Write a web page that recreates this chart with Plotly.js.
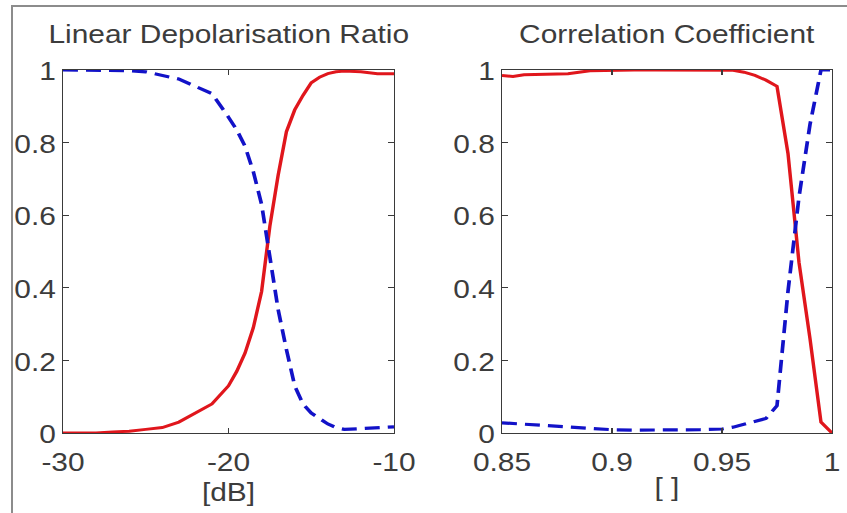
<!DOCTYPE html>
<html>
<head>
<meta charset="utf-8">
<script src="https://cdn.plot.ly/plotly-3.0.1.min.js"></script>
<style>
  html, body { margin: 0; padding: 0; background: #fff; overflow: hidden; }
  #frame {
    position: absolute; left: 11px; top: 5px; width: 900px; height: 600px;
    border-left: 2px solid #8c8c8c; border-top: 2px solid #8c8c8c;
    pointer-events: none; z-index: 2;
  }
  #chart {
    position: absolute; left: 0; top: 0; width: 736px; height: 513px;
    transform: scaleX(1.1508); transform-origin: 0 0;
  }
</style>
</head>
<body>
<div id="chart"></div>
<div id="frame"></div>
<script>
// Linear depolarisation ratio bins [dB]
const ldrX = [-30, -29, -28, -27, -26, -25, -24, -23, -22, -21, -20, -19.5, -19,
  -18.5, -18, -17.5, -17, -16.5, -16, -15.5, -15, -14.5, -14, -13.5, -13, -12, -11, -10];
// solid (red) curve over LDR
const ldrSolid = [0.0, 0.0, 0.0, 0.003, 0.005, 0.01, 0.015, 0.03, 0.055, 0.08, 0.13, 0.17, 0.22,
  0.29, 0.39, 0.57, 0.71, 0.83, 0.89, 0.93, 0.965, 0.98, 0.99, 0.995, 0.997, 0.995, 0.99, 0.99];
// dashed (blue) curve over LDR
const ldrDashed = [1.0, 1.0, 1.0, 1.0, 0.998, 0.995, 0.985, 0.975, 0.955, 0.935, 0.87, 0.835, 0.79,
  0.72, 0.63, 0.48, 0.34, 0.23, 0.13, 0.08, 0.055, 0.04, 0.025, 0.015, 0.01, 0.012, 0.015, 0.017];

// Correlation coefficient bins
const rhoX = [0.85, 0.855, 0.86, 0.87, 0.88, 0.89, 0.90, 0.91, 0.92, 0.93, 0.94, 0.95,
  0.955, 0.96, 0.965, 0.97, 0.975, 0.98, 0.985, 0.99, 0.995, 1.0];
const rhoSolid = [0.985, 0.982, 0.987, 0.989, 0.99, 0.998, 1.0, 1.0, 1.0, 1.0, 1.0, 1.0,
  0.999, 0.994, 0.985, 0.972, 0.955, 0.77, 0.47, 0.26, 0.03, 0.0];
const rhoDashed = [0.028, 0.026, 0.024, 0.02, 0.016, 0.012, 0.009, 0.008, 0.008, 0.008, 0.009, 0.011,
  0.016, 0.024, 0.033, 0.04, 0.075, 0.39, 0.65, 0.85, 1.0, 1.0];

// Tick labels
const ldrTicks = [-30, -20, -10];
const ldrTickText = ['-30', '-20', '-10'];
const rhoTicks = [0.85, 0.9, 0.95, 1];
const rhoTickText = ['0.85', '0.9', '0.95', '1'];
const probTicks = [0, 0.2, 0.4, 0.6, 0.8, 1];
const probTickText = ['0', '0.2', '0.4', '0.6', '0.8', '1'];

const panelTitles = ['Linear Depolarisation Ratio', 'Correlation Coefficient'];
const unitTitles = ['[dB]', '[ ]'];

const RED = '#e0161c';
const BLUE = '#1212c8';
const FONT = 'Liberation Sans, Arial, sans-serif';
const TXT = '#3c3c3c';
const AX = '#3a3a3a';

const solid = { color: RED, width: 3 };
const dashed = { color: BLUE, width: 3.2, dash: '13px,7px' };

const traces = [
  { x: ldrX, y: ldrSolid, mode: 'lines', line: solid, xaxis: 'x', yaxis: 'y', name: 'solid' },
  { x: ldrX, y: ldrDashed, mode: 'lines', line: dashed, xaxis: 'x', yaxis: 'y', name: 'dashed' },
  { x: rhoX, y: rhoSolid, mode: 'lines', line: solid, xaxis: 'x2', yaxis: 'y2', name: 'solid' },
  { x: rhoX, y: rhoDashed, mode: 'lines', line: dashed, xaxis: 'x2', yaxis: 'y2', name: 'dashed' }
];

const W = 847;
const dom1 = [63 / W, 394 / W];
const dom2 = [502 / W, 832 / W];
const ydom = [1 - 433 / 513, 1 - 70 / 513];

function xAxis(domain, range, vals, text, title) {
  return {
    domain: domain, range: range, anchor: domain === dom1 ? 'y' : 'y2',
    tickmode: 'array', tickvals: vals, ticktext: text,
    ticks: 'inside', ticklen: 5, tickwidth: 1, tickcolor: AX,
    showline: true, linecolor: AX, linewidth: 1, mirror: 'allticks',
    showgrid: false, zeroline: false, ticklabelstandoff: 6,
    tickfont: { family: FONT, size: 26, color: TXT },
    title: { text: title, standoff: 1, font: { family: FONT, size: 26, color: TXT } },
    fixedrange: true
  };
}
function yAxis(anchor) {
  return {
    domain: ydom, range: [0, 1], anchor: anchor,
    tickmode: 'array', tickvals: probTicks, ticktext: probTickText,
    ticks: 'inside', ticklen: 5, tickwidth: 1, tickcolor: AX,
    showline: true, linecolor: AX, linewidth: 1, mirror: 'allticks',
    showgrid: false, zeroline: false, ticklabelstandoff: 0, ticklabelshift: 1,
    tickfont: { family: FONT, size: 26, color: TXT },
    fixedrange: true
  };
}

const layout = {
  width: 736, height: 513,
  margin: { l: 0, r: 0, t: 0, b: 0 },
  paper_bgcolor: '#fff', plot_bgcolor: '#fff',
  showlegend: false,
  xaxis: xAxis(dom1, [-30, -10], ldrTicks, ldrTickText, unitTitles[0]),
  yaxis: yAxis('x'),
  xaxis2: xAxis(dom2, [0.85, 1], rhoTicks, rhoTickText, unitTitles[1]),
  yaxis2: yAxis('x2'),
  annotations: [
    { text: panelTitles[0], xref: 'paper', yref: 'paper', x: (dom1[0] + dom1[1]) / 2, y: 0.9,
      xanchor: 'center', yanchor: 'bottom', showarrow: false,
      font: { family: FONT, size: 26, color: TXT } },
    { text: panelTitles[1], xref: 'paper', yref: 'paper', x: (dom2[0] + dom2[1]) / 2, y: 0.9,
      xanchor: 'center', yanchor: 'bottom', showarrow: false,
      font: { family: FONT, size: 26, color: TXT } }
  ]
};

Plotly.newPlot('chart', traces, layout, { staticPlot: true, displayModeBar: false });
</script>
</body>
</html>
